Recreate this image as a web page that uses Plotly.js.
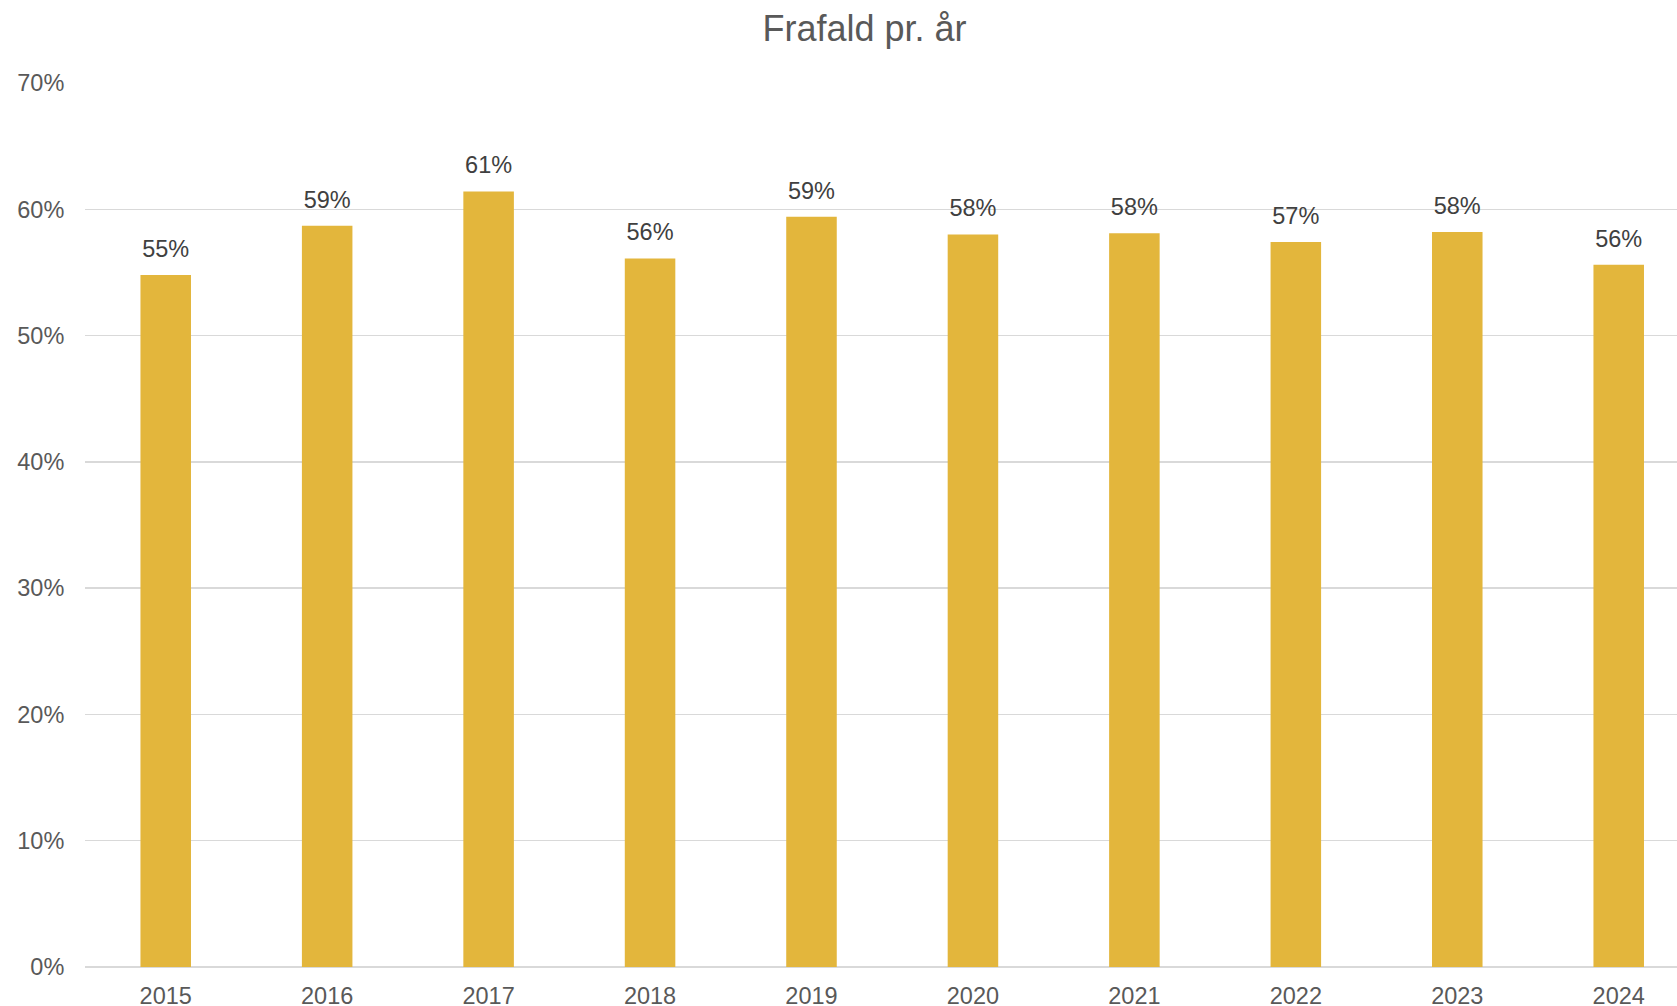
<!DOCTYPE html>
<html>
<head>
<meta charset="utf-8">
<script src="https://cdn.plot.ly/plotly-3.0.1.min.js"></script>
<style>
html,body{margin:0;padding:0;background:#fff;overflow:hidden;}
#chart{width:1677px;height:1006px;}
</style>
</head>
<body>
<div id="chart"></div>
<script>
var years = ['2015','2016','2017','2018','2019','2020','2021','2022','2023','2024'];
var frafald = [0.548, 0.587, 0.614, 0.561, 0.594, 0.580, 0.581, 0.574, 0.582, 0.556];
var yTicks = [0, 0.1, 0.2, 0.3, 0.4, 0.5, 0.6, 0.7];
var yTickLabels = ['0%','10%','20%','30%','40%','50%','60%','70%'];

var FONT = 'Liberation Sans, Arial, sans-serif';

var bars = {
  type: 'bar',
  x: years,
  y: frafald,
  marker: {color: '#E3B63C'},
  hoverinfo: 'none'
};

var labels = {
  type: 'scatter',
  mode: 'markers+text',
  x: years,
  y: frafald,
  texttemplate: '%{y:.0%}',
  textposition: 'top center',
  textfont: {family: FONT, size: 23.5, color: '#404040'},
  marker: {size: 18, opacity: 0, color: '#ffffff'},
  cliponaxis: false,
  hoverinfo: 'none'
};

var layout = {
  width: 1677, height: 1006,
  margin: {l: 85.4, r: 0, t: 82.7, b: 39.3},
  paper_bgcolor: '#ffffff', plot_bgcolor: '#ffffff',
  showlegend: false,
  bargap: 0.687,
  title: {
    text: 'Frafald pr. år',
    font: {family: FONT, size: 36, color: '#595959'},
    xref: 'container', x: 864.5/1677, xanchor: 'center',
    yref: 'container', y: 1 - 28/1006, yanchor: 'middle'
  },
  xaxis: {
    type: 'category',
    range: [-0.5, 9.361],
    showgrid: false, zeroline: false, showline: false,
    ticks: 'outside', ticklen: 8, tickcolor: 'rgba(0,0,0,0)',
    tickfont: {family: FONT, size: 23.5, color: '#595959'},
    fixedrange: true
  },
  yaxis: {
    range: [0, 0.7],
    tickvals: yTicks, ticktext: yTickLabels,
    showgrid: true, gridcolor: '#d9d9d9', gridwidth: 1.5,
    zeroline: true, zerolinecolor: '#d9d9d9', zerolinewidth: 2,
    showline: false,
    ticks: 'outside', ticklen: 15, tickcolor: 'rgba(0,0,0,0)',
    tickfont: {family: FONT, size: 23.5, color: '#595959'},
    fixedrange: true
  }
};

Plotly.newPlot('chart', [bars, labels], layout, {displayModeBar: false, staticPlot: true});
</script>
</body>
</html>
